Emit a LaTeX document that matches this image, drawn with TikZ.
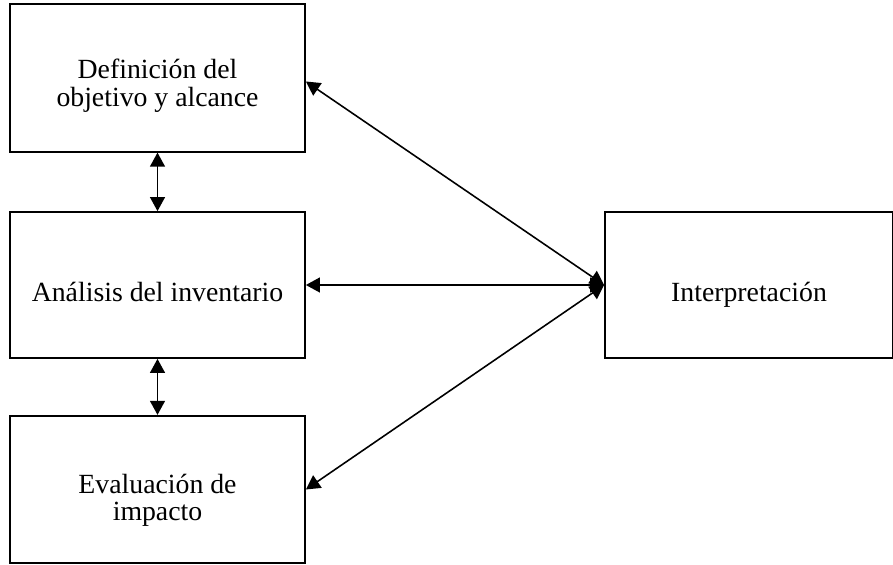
\documentclass[tikz,border=0pt]{standalone}
\usepackage{fontspec}
\setmainfont{Liberation Serif}
\usetikzlibrary{positioning,arrows.meta}

\tikzset{
    etapa/.style={draw, line width=1pt, minimum width=5.9cm, minimum height=2.95cm},
    texto/.style={anchor=base, inner sep=0pt, font=\fontsize{15.8}{15.9}\selectfont},
    flecha/.style={line width=0.9pt, {Triangle[length=8pt,width=8.5pt]}-{Triangle[length=8pt,width=8.5pt]}}
}
\newcommand{\dosrenglones}[2]{\begin{tabular}[t]{@{}c@{}}#1\\#2\end{tabular}}

\begin{document}
\begin{tikzpicture}
    \useasboundingbox (0,0) rectangle (17.86,11.28);

    % Fases de la izquierda
    \node[etapa] (def) at (3.15,9.72) {};
    \node[texto] (def-t) at ([yshift=-0.01cm]def.center) {\dosrenglones{Definición del}{objetivo y alcance}};
    \node[etapa, minimum height=2.92cm] (inv) at (3.15,5.58) {};
    \node[texto] (inv-t) at ([yshift=-0.34cm]inv.center) {Análisis del inventario};
    \node[etapa] (eval) at (3.15,1.49) {};
    \node[texto] (eval-t) at ([yshift=-0.07cm]eval.center) {\dosrenglones{Evaluación de}{impacto}};

    % Interpretacion
    \node[etapa, minimum width=5.76cm, minimum height=2.92cm] (interp) at (14.98,5.58) {};
    \node[texto] (interp-t) at ([yshift=-0.34cm]interp.center) {Interpretación};

    % Flechas
    \draw[flecha] (def.south) -- (inv.north);
    \draw[flecha] (inv.south) -- (eval.north);
    \draw[flecha] (interp.west) -- ([yshift=-0.07cm]def.east);
    \draw[flecha] (interp.west) -- (inv.east);
    \draw[flecha] (interp.west) -- (eval.east);
\end{tikzpicture}
\end{document}
